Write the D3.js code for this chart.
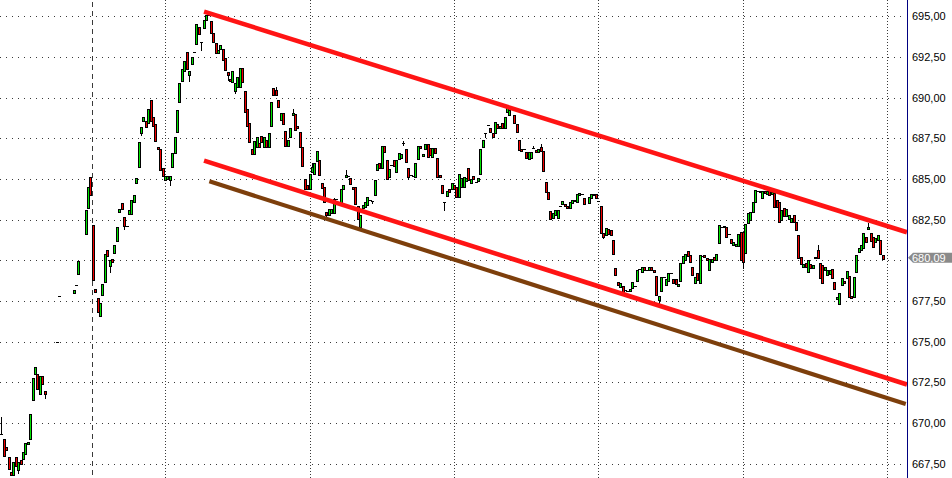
<!DOCTYPE html>
<html><head><meta charset="utf-8">
<script src="https://cdn.jsdelivr.net/npm/d3@7/dist/d3.min.js"></script>
<style>html,body{margin:0;padding:0;background:#fff;overflow:hidden}svg{display:block}</style>
</head><body><svg id="c" width="952" height="478"></svg>
<script>
// One candle per 1-minute slot (null = no trade in that slot)
const opens = [
669.33,669.03,668.53,667.91,666.99,666.81,667.91,667.12,667.73,667.79,
668.10,668.71,669.03,671.42,673.02,673.02,671.79,672.90,671.97,null,
null,null,null,674.99,677.82,null,null,null,null,null,
678.00,678.49,679.17,null,null,681.63,683.23,685.14,682.18,678.25,
677.69,676.59,677.88,678.68,680.65,679.66,680.09,680.46,681.20,682.98,
683.54,682.68,682.12,682.86,682.86,683.60,684.77,685.75,687.84,688.58,
688.58,688.46,689.87,688.82,688.40,686.98,686.86,685.69,684.95,685.01,
684.95,685.75,686.61,687.90,689.75,691.04,691.65,692.82,691.41,692.09,
692.82,693.31,694.36,693.44,694.30,694.79,695.10,694.73,693.99,693.38,
692.76,693.01,693.01,692.45,691.59,691.16,690.98,690.42,690.67,690.67,
691.84,690.42,689.32,688.46,686.86,686.55,686.98,687.23,687.66,686.98,
687.41,686.98,688.27,690.61,690.49,689.87,688.64,689.07,687.97,687.04,
687.60,688.95,689.01,688.27,687.90,686.98,685.01,684.64,684.40,685.44,
685.32,686.12,686.18,684.77,684.52,682.98,682.80,682.92,682.92,683.78,
null,683.48,684.40,685.14,685.20,685.07,684.52,684.52,683.35,682.06,
683.23,683.29,683.41,683.72,683.66,684.03,685.57,686.00,685.69,687.04,
686.18,685.14,685.87,686.18,685.44,686.24,686.30,687.23,686.86,685.69,
685.26,685.20,685.14,686.24,687.04,686.43,686.86,687.17,686.92,686.37,
686.92,686.30,685.26,684.64,683.60,683.97,684.40,684.40,684.64,684.52,
683.91,684.52,684.52,684.89,685.69,684.77,685.20,684.83,684.89,685.32,
686.98,687.84,688.33,688.15,687.84,687.84,688.40,688.15,688.46,688.15,
689.13,688.95,null,688.95,688.40,687.41,686.86,686.86,686.67,686.24,
686.30,686.92,686.80,686.67,686.98,686.74,684.83,684.21,683.04,682.61,
682.80,682.61,683.35,683.48,683.48,683.35,683.23,683.54,683.66,683.60,
684.03,684.09,683.84,null,683.54,683.84,684.03,684.09,683.66,683.35,
681.69,681.57,681.94,681.88,681.26,679.54,678.68,678.37,678.43,678.19,
678.12,678.12,678.31,678.43,678.74,679.48,679.29,679.60,679.42,679.42,
679.60,679.42,679.05,677.57,678.12,678.98,678.49,678.74,679.23,678.86,
678.86,678.43,678.74,679.85,680.03,680.58,680.34,679.60,678.62,679.23,
678.62,680.28,680.34,680.15,679.42,679.91,680.22,680.03,681.07,682.06,
682.06,682.06,681.63,681.32,680.95,680.89,680.89,681.75,681.75,680.46,
682.31,682.49,682.98,683.60,684.27,684.27,683.84,684.27,684.09,684.34,
684.09,684.15,683.72,683.60,682.49,683.23,682.74,682.55,682.37,682.80,
682.37,681.57,680.22,679.60,679.85,679.29,679.78,679.54,680.22,680.65,
679.85,679.72,679.42,679.11,679.17,679.48,678.68,677.63,677.32,678.49,
678.74,678.92,679.05,677.82,677.75,679.29,680.52,680.65,680.77,681.45,
681.94,681.69,681.45,681.14,681.26,681.26,680.30
];
const closes = [
669.33,667.98,668.35,667.18,666.81,667.61,667.36,667.61,667.48,668.22,
668.78,668.84,670.56,672.77,673.45,672.10,672.90,672.41,671.79,null,
null,null,null,674.99,677.82,null,null,null,null,null,
678.19,678.49,679.97,null,null,683.11,684.52,684.03,678.80,678.06,
676.83,677.38,678.55,680.40,680.28,680.03,679.91,680.95,682.06,683.17,
683.17,682.12,682.12,683.11,683.72,684.03,685.07,687.29,688.21,688.82,
688.21,689.32,688.58,688.27,687.35,686.86,685.57,685.20,685.20,685.20,
685.20,686.61,687.60,689.26,690.92,691.78,692.27,691.78,691.65,692.51,
692.82,694.54,693.93,693.44,694.79,695.10,695.10,693.99,693.44,692.76,
692.95,693.25,692.33,691.72,691.41,691.04,691.65,690.92,691.28,691.84,
690.98,689.13,688.27,687.29,686.55,687.35,687.60,686.98,687.29,687.60,
686.98,687.84,689.75,690.18,690.18,689.44,689.07,688.40,687.04,687.41,
688.15,689.07,688.03,688.15,686.98,685.81,684.40,684.40,685.32,685.75,
685.99,686.74,685.26,684.46,683.60,682.80,683.17,683.17,683.78,683.78,
null,684.40,684.64,685.26,685.20,684.70,684.40,683.48,682.55,682.80,
683.41,683.60,683.91,683.72,683.66,684.95,685.94,685.69,687.04,686.67,
685.01,685.63,685.87,685.81,686.18,686.61,686.55,687.23,686.06,685.14,
685.26,685.20,686.00,687.04,686.92,686.55,687.17,686.37,686.49,686.92,
686.61,685.14,685.14,684.15,683.60,684.27,684.21,684.77,684.40,683.91,
685.32,685.07,685.14,685.07,684.95,685.01,685.01,684.83,685.07,686.86,
687.41,687.84,688.33,687.90,687.60,688.52,688.15,688.27,688.15,688.82,
689.38,689.26,null,688.46,687.90,686.80,686.74,686.86,686.30,686.67,
686.67,686.92,686.67,686.86,686.74,685.50,684.21,683.78,682.55,682.92,
683.11,683.11,683.35,683.66,683.35,683.23,683.60,683.72,683.72,684.09,
684.15,684.09,683.48,null,683.91,684.09,684.09,683.84,683.66,681.69,
681.45,682.00,681.63,681.57,680.40,679.11,678.49,678.62,678.06,678.19,
678.12,678.25,678.68,678.43,679.42,679.48,679.60,679.42,679.42,679.60,
679.42,679.29,677.88,677.82,678.98,678.98,678.86,679.23,679.23,678.62,
678.55,678.55,679.85,680.28,680.40,680.28,679.91,679.11,678.98,678.80,
680.34,680.28,680.22,680.03,680.09,680.09,680.03,680.40,682.18,682.06,
682.12,681.45,681.63,681.07,681.14,681.01,681.63,680.03,679.91,682.24,
682.92,682.98,683.60,684.34,684.27,684.21,684.27,684.15,684.27,684.03,
684.21,683.29,683.29,682.37,683.11,682.74,683.17,682.80,682.61,682.37,
681.88,680.15,679.78,679.78,679.60,680.03,679.54,679.72,680.15,680.15,
678.92,678.62,679.60,679.42,679.42,678.92,678.25,677.75,678.00,678.92,
678.62,679.35,677.75,677.69,678.98,680.34,680.77,680.95,681.69,681.14,
682.06,681.20,680.83,681.38,681.57,680.40,680.09
];
// visible wicks: [slot, high, low]
const wicks = [
[0,670.38,669.33],[7,667.61,666.93],[18,671.97,671.54],[45,680.03,679.29],
[51,682.68,681.94],[58,688.21,687.72],[70,685.20,684.64],[78,691.65,691.04],
[83,693.44,692.95],[86,695.28,695.10],[94,691.59,691.10],[97,690.92,690.30],
[114,690.67,690.18],[121,689.32,688.95],[129,685.99,685.44],[135,682.98,682.68],
[138,683.84,682.92],[143,685.57,685.14],[154,683.66,683.54],[167,687.35,687.10],
[169,685.69,685.01],[184,683.60,683.11],[201,687.84,687.60],[221,687.04,686.92],
[224,687.17,686.74],[250,681.69,681.38],[273,677.82,677.32],[308,681.75,679.54],
[339,680.95,680.15],[360,682.31,681.94]
];
const priceTicks = [667.5,670,672.5,675,677.5,680,682.5,685,687.5,690,692.5,695];
const hourSlots = [68,128,188,248,308,368];
const sessionSlots = [37.5];
const channelTop = [[84.2,695.28],[376.1,681.72]];
const channelBottom = [[84.2,686.12],[376.1,672.36]];
const supportLine = [[86.4,684.85],[375.6,671.17]];
const lastPrice = 680.09;

const W = 952, H = 478, axisX = 907;
const svg = d3.select('#c');
const x = d3.scaleLinear().domain([0, 60]).range([1.3, 1.3 + 144.48]);
const y = d3.scaleLinear().domain([667.5, 695]).range([463.6, 16.2]);
const fmt = v => d3.format('.2f')(v).replace('.', ',');

// horizontal grid
svg.append('g').selectAll('line').data(priceTicks).join('line')
  .attr('x1', 0).attr('x2', axisX - 2)
  .attr('y1', d => Math.round(y(d)) + 0.5).attr('y2', d => Math.round(y(d)) + 0.5)
  .attr('stroke', '#3a3a3a').attr('stroke-width', 1).attr('stroke-dasharray', '1,5');
// vertical grid
svg.append('g').selectAll('line').data(hourSlots).join('line')
  .attr('x1', d => Math.round(x(d)) + 0.5).attr('x2', d => Math.round(x(d)) + 0.5)
  .attr('y1', 0).attr('y2', H)
  .attr('stroke', '#3a3a3a').attr('stroke-width', 1).attr('stroke-dasharray', '1,2');
svg.append('g').selectAll('line').data(sessionSlots).join('line')
  .attr('x1', d => Math.round(x(d)) + 0.5).attr('x2', d => Math.round(x(d)) + 0.5)
  .attr('y1', 2).attr('y2', H)
  .attr('stroke', '#3a3a3a').attr('stroke-width', 1).attr('stroke-dasharray', '5,4');

// candles
const candles = opens.map((o, i) => ({i, o, c: closes[i]})).filter(d => d.o !== null);
const gW = svg.append('g');
gW.selectAll('line').data(wicks).join('line')
  .attr('x1', d => Math.round(x(d[0])) + 0.5).attr('x2', d => Math.round(x(d[0])) + 0.5)
  .attr('y1', d => Math.round(y(d[1]))).attr('y2', d => Math.round(y(d[2])) + 1)
  .attr('stroke', '#000').attr('stroke-width', 1);
const gC = svg.append('g');
candles.forEach(d => {
  const cx = Math.round(x(d.i)) - 1;
  const yt = Math.round(y(Math.max(d.o, d.c)));
  const yb = Math.round(y(Math.min(d.o, d.c)));
  const h = Math.max(1, yb - yt + 1);
  gC.append('rect').attr('x', cx).attr('y', yt).attr('width', 3).attr('height', h).attr('fill', '#000');
  if (h > 2) {
    gC.append('rect').attr('x', cx + 1).attr('y', yt + 1).attr('width', 1).attr('height', h - 2)
      .attr('fill', d.c > d.o ? '#00e400' : '#f00000');
  }
});

// trend lines
const line = d3.line().x(d => x(d[0])).y(d => y(d[1]));
svg.append('path').attr('d', line(supportLine)).attr('fill', 'none')
  .attr('stroke', '#7d3f0c').attr('stroke-width', 4.2);
svg.append('path').attr('d', line(channelTop)).attr('fill', 'none')
  .attr('stroke', '#ff1414').attr('stroke-width', 4.6);
svg.append('path').attr('d', line(channelBottom)).attr('fill', 'none')
  .attr('stroke', '#ff1414').attr('stroke-width', 4.6);

// right axis
svg.append('line').attr('x1', axisX + 0.5).attr('x2', axisX + 0.5).attr('y1', 0).attr('y2', H)
  .attr('stroke', '#000080').attr('stroke-width', 1);
const ax = svg.append('g').attr('transform', `translate(${axisX},0)`)
  .call(d3.axisRight(y)
    .tickValues(priceTicks.filter(v => Math.abs(y(v) - y(lastPrice)) > 6))
    .tickSize(0).tickPadding(5).tickFormat(fmt));
ax.select('.domain').remove();
ax.selectAll('text').attr('font-family', '"Liberation Sans", Arial, sans-serif')
  .attr('font-size', '11px').attr('fill', '#000');

// last price tag
const ty = y(lastPrice) - 1;
svg.append('path')
  .attr('d', `M${axisX + 1},${ty} L${axisX + 6},${ty - 5} L${W},${ty - 5} L${W},${ty + 5} L${axisX + 6},${ty + 5} Z`)
  .attr('fill', '#8a8a8a');
svg.append('text').attr('x', axisX + 5).attr('y', ty).attr('dy', '0.35em')
  .attr('font-family', '"Liberation Sans", Arial, sans-serif').attr('font-size', '11px')
  .attr('fill', '#fff').text(fmt(lastPrice));
</script></body></html>
